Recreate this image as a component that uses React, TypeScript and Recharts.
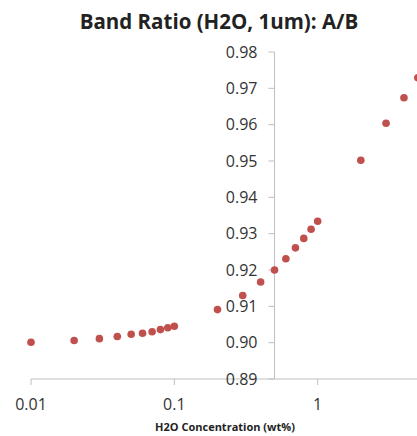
import React from "react";
import {
  ReferenceLine,
  Scatter,
  ScatterChart,
  XAxis,
  YAxis
} from "recharts";

// H2O concentration (wt%) and the measured A/B band ratio
const concentration = [
  0.01, 0.02, 0.03, 0.04, 0.05, 0.06, 0.07, 0.08, 0.09, 0.1,
  0.2, 0.3, 0.4, 0.5, 0.6, 0.7, 0.8, 0.9, 1,
  2, 3, 4, 5
];
const ratio = [
  0.9001, 0.9006, 0.9011, 0.9017, 0.9023, 0.9026, 0.903, 0.9036, 0.9041, 0.9045,
  0.9091, 0.913, 0.9167, 0.92, 0.9231, 0.9261, 0.9287, 0.9312, 0.9334,
  0.9502, 0.9604, 0.9674, 0.9729
];

const xTicks = [0.01, 0.1, 1];
const yTicks = [0.89, 0.9, 0.91, 0.92, 0.93, 0.94, 0.95, 0.96, 0.97, 0.98];

// the vertical axis crosses the horizontal one at this concentration
const yAxisCross = 0.5;
const tickStart = 0.4537; // ~6px to the left of the crossing on the log scale

const data = concentration.map((x, i) => ({ x, y: ratio[i] }));

const axisGray = "#bfbfbf";
const textColor = "#333";

const Dot = (props: any) => (
  <circle cx={props.cx} cy={props.cy} r={3.8} fill="#C0504D" />
);

export default function App() {
  return (
    <div
      style={{
        position: "absolute",
        top: 8,
        left: 8,
        width: 409,
        height: 428,
        overflow: "hidden",
        fontFamily: "'Open Sans', sans-serif"
      }}
    >
      <div
        style={{
          position: "absolute",
          top: 3,
          left: 0,
          width: 422,
          textAlign: "center",
          fontSize: 20.5,
          lineHeight: "20px",
          fontWeight: 700,
          color: "#222",
          zIndex: 1
        }}
      >
        Band Ratio (H2O, 1um): A/B
      </div>
      {/* plot runs on past the right edge (to 10 wt%), the page crops it */}
      <ScatterChart
        width={453}
        height={428}
        margin={{ top: 44, right: 0, bottom: 0, left: 23 }}
      >
        <XAxis
          type="number"
          dataKey="x"
          scale="log"
          domain={[0.01, 10]}
          ticks={xTicks}
          tickFormatter={(v: number) => String(v)}
          height={57}
          stroke={axisGray}
          tickSize={6}
          tickMargin={14}
          tick={{ fill: textColor, fontSize: 16 }}
          label={{
            value: "H2O Concentration (wt%)",
            position: "insideBottom",
            offset: 5,
            dx: -21,
            fill: "#222",
            fontSize: 11,
            fontWeight: 700
          }}
        />
        <YAxis type="number" dataKey="y" domain={[0.89, 0.98]} hide />
        <ReferenceLine x={yAxisCross} stroke={axisGray} ifOverflow="visible" />
        {yTicks.map((t) => (
          <ReferenceLine
            key={t}
            segment={[
              { x: tickStart, y: t },
              { x: yAxisCross, y: t }
            ]}
            stroke={axisGray}
            ifOverflow="visible"
            label={{
              value: t.toFixed(2),
              position: "left",
              offset: 11,
              fill: textColor,
              fontSize: 16
            }}
          />
        ))}
        <Scatter data={data} shape={Dot} isAnimationActive={false} />
      </ScatterChart>
    </div>
  );
}
